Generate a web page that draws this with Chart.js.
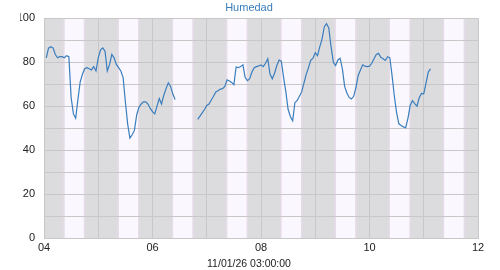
<!DOCTYPE html>
<html>
<head>
<meta charset="utf-8">
<script src="https://cdn.jsdelivr.net/npm/chart.js@4/dist/chart.umd.min.js"></script>
<style>
    body { margin: 0; background: #fff; }
    .chart { width: 500px; height: 270px; }
</style>
</head>
<body>
<div class="chart"><canvas id="humChart"></canvas></div>
<script>
const chartTitle = 'Humedad';
const readingTime = '11/01/26 03:00:00';

// first reading at 04 01:00, one per hour, null = no reading
const firstHour = 1;
const humidity = [
    82, 86.4, 87, 86.5, 83.5, 82, 82.5, 82.5, 82, 83,
    82.5, 64, 56.5, 54.5, 63, 71, 74.5, 77, 77.5, 77,
    76.5, 78, 76, 82, 85.5, 86.5, 85, 76, 79, 83.5,
    82, 79, 77.5, 76, 73, 62, 52, 45.5, 47, 49,
    56, 59.5, 61, 62, 62, 61, 59, 57.5, 56.5, 60,
    63.5, 61, 65, 68, 70.6, 69, 65.5, 63,
    null, null, null, null, null, null, null, null, null,
    54, 55.5, 57, 58.5, 60.3, 61, 62.8, 64.5, 66.5, 67,
    67.8, 68, 69, 72, 71.5, 70.8, 69.8, 77.8, 77.5, 78,
    78.8, 73, 71.6, 72.5, 75.5, 77.5, 78, 78.3, 78.8, 78,
    79.5, 81.6, 74.5, 72.5, 75, 78.5, 81, 80.5, 73, 66.5,
    58.5, 55.3, 53.4, 61.6, 62.6, 64.5, 66.5, 70.5, 74.5, 77.5,
    80.8, 81.8, 84.3, 83, 87, 90.5, 96, 97.5, 95.5, 87,
    80, 78.5, 81, 81.8, 77, 69, 66, 64, 63.3, 64.5,
    68.5, 74, 76.5, 78.8, 78.2, 78, 78.2, 79.5, 81.6, 83.5,
    84, 82.2, 81.6, 80.8, 82.5, 82, 73.8, 64.5, 57, 52,
    51.2, 50.6, 50.2, 54.5, 60.3, 62.5, 61.2, 60, 63.8, 65.8,
    65.6, 70.5, 75.5, 77
];

// days shown on the axis and daylight hours for each of them
const days = [4, 5, 6, 7, 8, 9, 10, 11];
const sunrise = [8.9, 8.9, 8.9, 8.9, 8.9, 8.9, 8.85, 8.8];
const sunset = [17.8, 17.85, 17.85, 17.85, 17.9, 17.9, 17.85, 17.85];

const points = humidity.map((v, i) => ({ x: firstHour + i, y: v }));

const nightBands = {
    id: 'nightBands',
    beforeDraw(chart) {
        const { ctx, chartArea: a, scales: { x } } = chart;
        ctx.save();
        ctx.fillStyle = '#dcdcdf';
        ctx.fillRect(a.left, a.top, a.right - a.left, a.bottom - a.top);
        days.forEach((d, i) => {
            const base = (d - days[0]) * 24;
            const x1 = x.getPixelForValue(base + sunrise[i]);
            const x2 = x.getPixelForValue(base + sunset[i]);
            ctx.fillStyle = '#faf8fe';
            ctx.fillRect(x1, a.top, x2 - x1, a.bottom - a.top);
            ctx.fillStyle = '#e6dbe8';
            ctx.fillRect(x1 - 1, a.top, 1.5, a.bottom - a.top);
            ctx.fillRect(x2 - 0.5, a.top, 1.5, a.bottom - a.top);
        });
        ctx.restore();
    }
};

const ctx = document.getElementById('humChart').getContext('2d');

new Chart(ctx, {
    type: 'line',
    data: {
        datasets: [{
            label: chartTitle,
            data: points,
            borderColor: '#3a7dbd',
            borderWidth: 1.2,
            pointRadius: 0,
            tension: 0,
            spanGaps: false
        }]
    },
    options: {
        responsive: true,
        maintainAspectRatio: false,
        animation: false,
        layout: {
            padding: { left: 20, right: 22, top: 1, bottom: 0 }
        },
        scales: {
            x: {
                type: 'linear',
                min: 0,
                max: 192,
                grid: { color: '#c8c8c8', drawTicks: false },
                border: { color: '#c8c8c8' },
                ticks: {
                    stepSize: 24,
                    autoSkip: false,
                    maxRotation: 0,
                    padding: 3,
                    color: '#222',
                    font: { family: 'Liberation Sans', size: 11 },
                    callback: (v) => {
                        const d = days[0] + v / 24;
                        return d % 2 === 0 ? String(d).padStart(2, '0') : '';
                    }
                }
            },
            y: {
                min: 0,
                max: 100,
                afterFit: (scale) => { scale.width = 24; },
                grid: { color: '#c8c8c8', drawTicks: false },
                border: { color: '#c8c8c8' },
                ticks: {
                    stepSize: 10,
                    padding: 9,
                    color: '#222',
                    font: { family: 'Liberation Sans', size: 11 },
                    callback: (v) => (v % 20 === 0 ? v : '')
                }
            }
        },
        plugins: {
            legend: { display: false },
            tooltip: { enabled: false },
            title: {
                display: true,
                text: chartTitle,
                color: '#3a7dbd',
                font: { family: 'Liberation Sans', size: 11, weight: 'normal' },
                padding: { top: 0, bottom: 4 }
            },
            subtitle: {
                display: true,
                position: 'bottom',
                text: readingTime,
                color: '#222',
                font: { family: 'Liberation Sans', size: 10.5 },
                padding: { top: 0, bottom: 0 }
            }
        }
    },
    plugins: [nightBands]
});
</script>
</body>
</html>
